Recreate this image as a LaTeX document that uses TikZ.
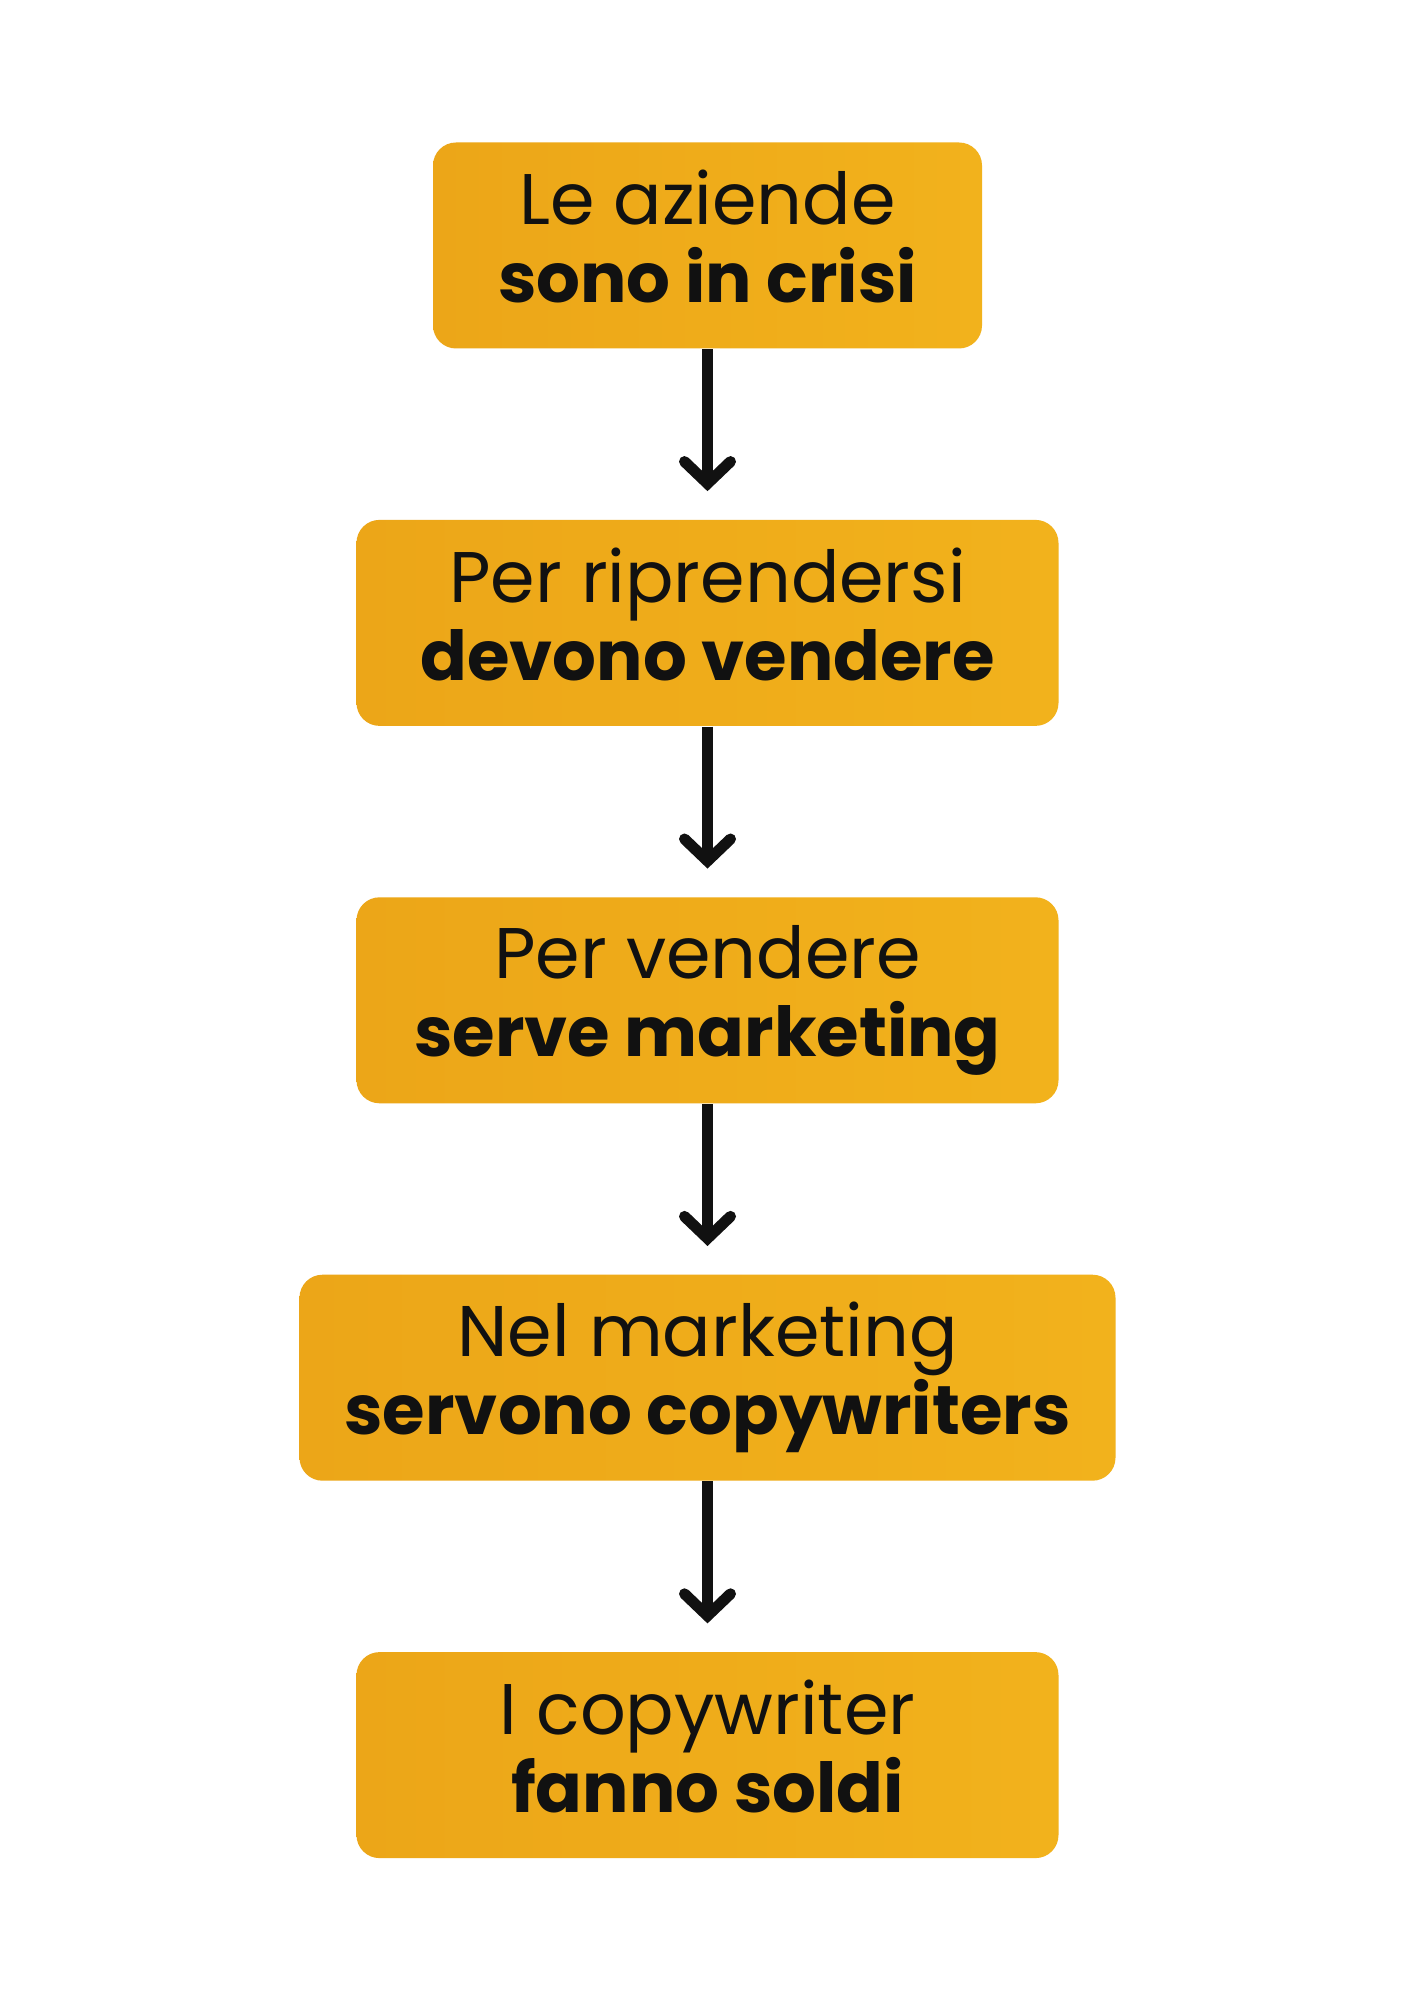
\documentclass[tikz,border=0pt]{standalone}
\usepackage{fontspec}
\setmainfont{Poppins}
\usepackage{xcolor}
\definecolor{flowgold}{RGB}{242,178,28}
\definecolor{flowgoldlight}{RGB}{248,196,42}
\definecolor{flowgolddark}{RGB}{236,166,24}
\definecolor{flowink}{RGB}{17,17,17}
\usetikzlibrary{arrows.meta, positioning}

\newcommand{\flowstep}[2]{#1\\
  {\fontsize{19.6pt}{22.2pt}\selectfont\bfseries #2\vphantom{py}}}

\tikzset{
  stepbox/.style={rectangle, rounded corners=0.23cm, left color=flowgolddark,
    middle color=flowgoldlight, right color=flowgold, minimum height=2.06cm,
    inner sep=0pt, align=center, text=flowink,
    font=\fontsize{20.4pt}{22.2pt}\selectfont},
  flowarrow/.style={-{Straight Barb[length=0.22cm, width=0.46cm, line cap=round]},
    line width=0.11cm, flowink, shorten >=0.28cm}
}

\begin{document}
\begin{tikzpicture}
  % Page
  \fill[white] (0,0) rectangle (14.14,20);
  \useasboundingbox (0,0) rectangle (14.14,20);

  % --- Steps ---
  \node[stepbox, minimum width=5.49cm] (crisi) at (7.075,17.545)
    {\flowstep{Le aziende}{sono in crisi}};
  \node[stepbox, minimum width=7.02cm, below=1.7cm of crisi] (vendere)
    {\flowstep{Per riprendersi}{devono vendere}};
  \node[stepbox, minimum width=7.02cm, below=1.7cm of vendere] (marketing)
    {\flowstep{Per vendere}{serve marketing}};
  \node[stepbox, minimum width=8.16cm, below=1.7cm of marketing] (copy)
    {\flowstep{Nel marketing}{servono copywriters}};
  \node[stepbox, minimum width=7.02cm, below=1.7cm of copy] (soldi)
    {\flowstep{I copywriter}{fanno soldi}};

  % --- Arrows ---
  \draw[flowarrow] (crisi) -- (vendere);
  \draw[flowarrow] (vendere) -- (marketing);
  \draw[flowarrow] (marketing) -- (copy);
  \draw[flowarrow] (copy) -- (soldi);
\end{tikzpicture}
\end{document}
